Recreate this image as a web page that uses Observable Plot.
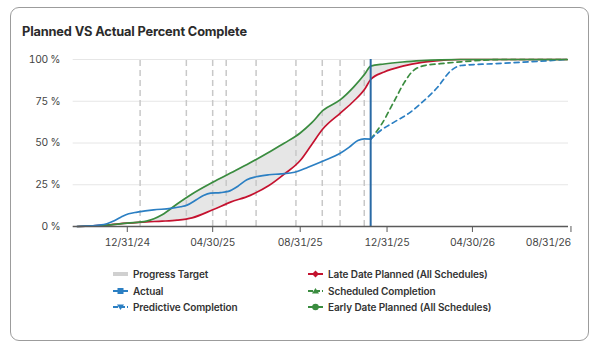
<!DOCTYPE html>
<html><head><meta charset="utf-8">
<script src="https://cdn.jsdelivr.net/npm/d3@7"></script>
<script src="https://cdn.jsdelivr.net/npm/@observablehq/plot@0.6"></script>
<style>
html,body{margin:0;padding:0;background:#fff;width:600px;height:353px;overflow:hidden;font-family:Inter,"Noto Sans",sans-serif;}
#card{position:absolute;left:10px;top:7px;width:577px;height:332px;border:1.5px solid #9c9c9c;border-radius:9px;background:#fff;}
#title{position:absolute;left:22px;top:24px;font-size:12.8px;font-weight:700;color:#2b2b2b;letter-spacing:-0.15px;}
#chart{position:absolute;left:0;top:0;}
.leg{position:absolute;font-size:10px;font-weight:600;color:#333;display:flex;align-items:center;white-space:nowrap;letter-spacing:-0.1px;}
.leg svg{margin-right:3px;}
</style></head>
<body>
<div id="card"></div>
<div id="title">Planned VS Actual Percent Complete</div>
<div id="chart"></div>
<div id="legend"></div>
<script>
// ---- data ----
const planDates = ["2024-10-22","2024-11-29","2024-12-31","2025-01-27","2025-02-18","2025-03-11","2025-04-01","2025-04-30","2025-05-25","2025-06-21","2025-07-18","2025-08-09","2025-08-31","2025-09-16","2025-10-02","2025-10-26","2025-11-14","2025-11-30","2025-12-08","2025-12-27","2026-01-22","2026-02-18","2026-03-17","2026-04-13","2026-09-10"];
const earlyPlanned = [0,0.6,2,3.2,7,13.5,19.5,26.5,32,38,44.5,50,56,62,69.5,75.8,83.5,91.5,96,97.3,98.5,99.3,99.8,100,100];
const latePlanned  = [0,0.8,2,2.8,3.2,3.8,5.2,10,14.6,18.5,24.5,31.5,39.5,49,58.5,67.8,75,82.5,88,92.5,96,98.3,99.5,100,100];

const actualDates = ["2024-10-21","2024-11-28","2024-12-10","2024-12-22","2025-01-02","2025-01-14","2025-02-06","2025-03-02","2025-03-16","2025-03-25","2025-04-07","2025-04-17","2025-04-27","2025-05-11","2025-05-22","2025-06-04","2025-06-17","2025-06-30","2025-07-18","2025-08-04","2025-08-23","2025-09-11","2025-10-04","2025-10-25","2025-11-08","2025-11-20","2025-11-29","2025-12-08"];
const actualValues = [0,1.2,3,5.6,7.6,8.6,10,10.8,11.8,12.8,16,18.6,20,20.3,21,24,28,29.8,31,31.5,32.5,35.5,39.5,43.5,47.5,51.5,52.5,52.3];

const predictiveDates = ["2025-12-08","2025-12-22","2026-01-10","2026-02-02","2026-02-16","2026-03-12","2026-03-31","2026-04-14","2026-05-26","2026-07-11","2026-09-10"];
const predictiveValues = [52.3,57.5,62.5,68.5,73.5,83.4,93.4,96.4,97.4,98.4,100];

const scheduledDates = ["2025-12-08","2025-12-23","2026-01-10","2026-01-24","2026-02-05","2026-02-23","2026-03-16","2026-04-14","2026-05-12","2026-06-09","2026-09-10"];
const scheduledValues = [52.3,61,75,86,93,96.5,97.5,98.6,99.5,100,100];

const milestoneDates = ["2025-01-18","2025-03-24","2025-04-30","2025-05-19","2025-06-30","2025-08-25","2025-10-01","2025-10-26","2025-11-29"];
const dataDate = "2025-12-08";

const xTickDates = ["2024-12-31","2025-04-30","2025-08-31","2025-12-31","2026-04-30","2026-08-31"];
const yTickValues = [0,25,50,75,100];
const xDomain = ["2024-10-16","2026-09-12"];

const legendLabels = ["Progress Target","Actual","Predictive Completion","Late Date Planned (All Schedules)","Scheduled Completion","Early Date Planned (All Schedules)"];

// ---- build ----
const parse = d3.utcParse("%Y-%m-%d");
const RED = "#c4122f", GREEN = "#3a8c3f", BLUE = "#2b7fc3", DD = "#2a6aa5";
const plan = planDates.map((d,i)=>({date:parse(d), early:earlyPlanned[i], late:latePlanned[i]}));
const actual = actualDates.map((d,i)=>({date:parse(d), v:actualValues[i]}));
const pred = predictiveDates.map((d,i)=>({date:parse(d), v:predictiveValues[i]}));
const sched = scheduledDates.map((d,i)=>({date:parse(d), v:scheduledValues[i]}));
const xt = xTickDates.map(parse);
const fmt = d3.utcFormat("%m/%d/%y");

const chart = Plot.plot({
  width:600, height:260,
  marginLeft:72.7, marginRight:32, marginTop:59, marginBottom:34,
  x:{type:"utc", domain:xDomain.map(parse)},
  y:{domain:[0,100]},
  style:{fontFamily:"Inter, sans-serif", fontSize:"10.3px", letterSpacing:"-0.3px", color:"#444", background:"transparent", overflow:"visible"},
  marks:[
    Plot.ruleY(yTickValues, {stroke:"#e6e6e6", strokeWidth:1}),
    Plot.areaY(plan, {x:"date", y1:"late", y2:"early", fill:"#e6e6e6", curve:"monotone-x"}),
    Plot.ruleX(milestoneDates.map(parse), {y1:0, y2:100, stroke:"#c8c8c8", strokeWidth:1.5, strokeDasharray:"6,4"}),
    Plot.line(plan, {x:"date", y:"late", stroke:RED, strokeWidth:1.7, curve:"monotone-x"}),
    Plot.line(sched, {x:"date", y:"v", stroke:GREEN, strokeWidth:1.7, strokeDasharray:"5,4", curve:"monotone-x"}),
    Plot.line(pred, {x:"date", y:"v", stroke:BLUE, strokeWidth:1.7, strokeDasharray:"5,4", curve:"monotone-x"}),
    Plot.line(plan, {x:"date", y:"early", stroke:GREEN, strokeWidth:1.7, curve:"monotone-x"}),
    Plot.line(actual, {x:"date", y:"v", stroke:BLUE, strokeWidth:1.7, curve:"monotone-x"}),
    Plot.ruleX([parse(dataDate)], {y1:0, y2:100, stroke:DD, strokeWidth:2}),
    Plot.ruleY([0], {stroke:"#5a5a5a", strokeWidth:1.5}),
    Plot.axisX(xt.slice(0,-1), {tickFormat:fmt, tickSize:6, tickPadding:6, label:null, stroke:"#5a5a5a"}),
    Plot.axisX(xt.slice(-1), {tickFormat:fmt, tickSize:6, tickPadding:6, label:null, stroke:"#5a5a5a", textAnchor:"end", dx:11}),
    Plot.axisY(yTickValues, {tickFormat:d=>d+" %", tickSize:0, tickPadding:13, label:null})
  ]
});
document.getElementById("chart").appendChild(chart);

// ---- legend ----
function icon(kind){
  const s = `<svg width="18" height="10" viewBox="0 0 18 10">`;
  const ln = (c,dash)=>`<line x1="1" y1="5" x2="16" y2="5" stroke="${c}" stroke-width="2" ${dash?'stroke-dasharray="5,2"':''}/>`;
  switch(kind){
    case 0: return s+`<rect x="1" y="3" width="15" height="4" fill="#d0d0d0"/></svg>`;
    case 1: return s+ln(BLUE)+`<rect x="5.5" y="2" width="6" height="6" fill="${BLUE}"/></svg>`;
    case 2: return s+ln(BLUE,true)+`<path d="M5 2.5 L12 2.5 L8.5 8 Z" fill="${BLUE}"/></svg>`;
    case 3: return s+ln(RED)+`<path d="M8.5 1.5 L12 5 L8.5 8.5 L5 5 Z" fill="${RED}"/></svg>`;
    case 4: return s+ln(GREEN,true)+`<path d="M8.5 2 L12 7.5 L5 7.5 Z" fill="${GREEN}"/></svg>`;
    case 5: return s+ln(GREEN)+`<circle cx="8.5" cy="5" r="3.3" fill="${GREEN}"/></svg>`;
  }
}
const legPos = [[112,274],[112,290.5],[112,306.5],[307,274],[307,290.5],[307,306.5]];
const leg = document.getElementById("legend");
legendLabels.forEach((t,i)=>{
  const d = document.createElement("div");
  d.className="leg";
  d.style.left = legPos[i][0]+"px";
  d.style.top = (legPos[i][1]-7)+"px";
  d.style.height="14px";
  d.innerHTML = icon(i)+`<span>${t}</span>`;
  leg.appendChild(d);
});
</script>
</body></html>
